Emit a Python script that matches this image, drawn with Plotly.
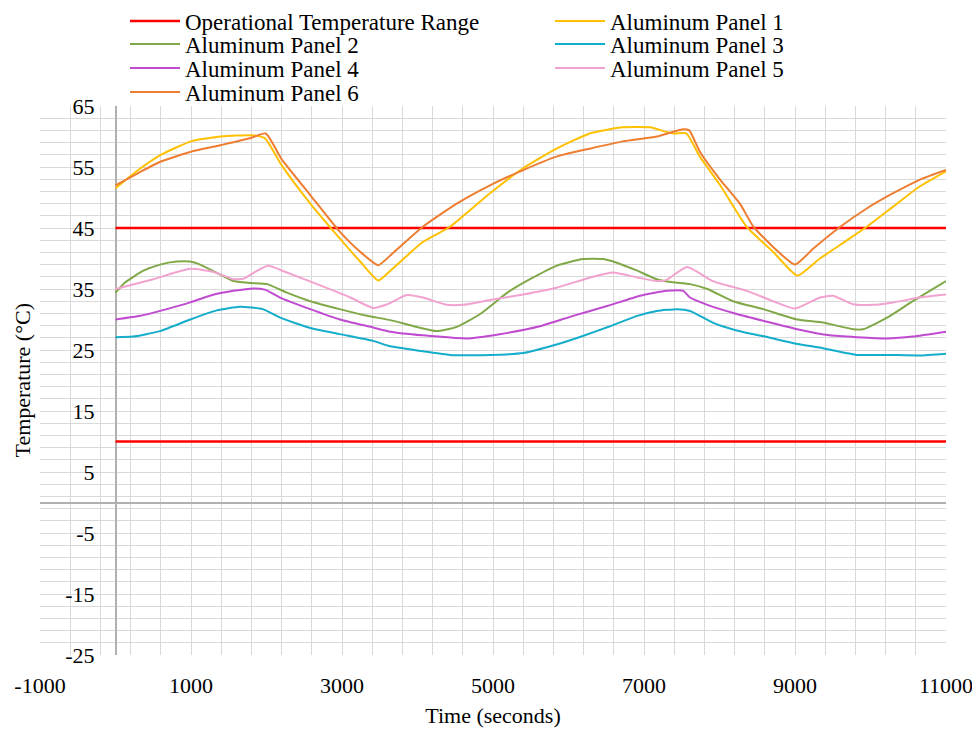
import plotly.graph_objects as go

# ---- data ----
RANGE_LOW = 10
RANGE_HIGH = 45
RANGE_T = [0, 11000]

p1_t = [0, 300, 600, 1000, 1400, 1800, 1980, 2200, 2580, 2970, 3240, 3480, 3640, 4070, 4430,
        4960, 5400, 5840, 6280, 6720, 7080, 7380, 7560, 7740, 8010, 8360, 8710, 9030, 9330,
        9690, 9950, 10300, 10650, 11000]
p1_v = [51.5, 54.5, 57.0, 59.2, 60.0, 60.2, 59.7, 55.3, 49.0, 43.3, 39.5, 36.4, 38.0, 42.7, 45.2,
        50.7, 54.8, 58.0, 60.5, 61.5, 61.5, 60.5, 60.5, 56.7, 52.0, 45.2, 41.1, 37.2, 40.0,
        43.0, 45.2, 48.5, 51.8, 54.3]

p2_t = [0, 130, 370, 590, 810, 990, 1120, 1380, 1560, 1780, 2010, 2270, 2580, 2970, 3330, 3640,
        3950, 4250, 4520, 4830, 5190, 5490, 5840, 6190, 6460, 6640, 6910, 7170, 7380, 7610, 7840,
        8180, 8580, 9030, 9370, 9770, 9900, 10220, 10560, 11000]
p2_v = [34.4, 36.1, 38.0, 39.0, 39.5, 39.5, 39.0, 37.4, 36.3, 36.0, 35.8, 34.4, 33.0, 31.7, 30.6, 29.9,
        28.9, 28.1, 28.8, 30.9, 34.4, 36.6, 38.8, 39.9, 39.9, 39.3, 38.0, 36.6, 36.1, 35.8, 35.0,
        33.0, 31.7, 30.0, 29.5, 28.4, 28.4, 30.3, 33.0, 36.3]

p3_t = [0, 230, 590, 990, 1340, 1650, 1950, 2180, 2580, 2970, 3410, 3640, 4070, 4430, 4960, 5400,
        5840, 6190, 6550, 6910, 7170, 7440, 7610, 7910, 8230, 8670, 9030, 9370, 9820, 10220,
        10650, 11000]
p3_v = [27.1, 27.2, 28.1, 30.0, 31.5, 32.1, 31.7, 30.3, 28.6, 27.6, 26.5, 25.6, 24.8, 24.2, 24.2, 24.5,
        25.9, 27.3, 28.9, 30.6, 31.4, 31.7, 31.4, 29.5, 28.2, 27.0, 26.0, 25.3, 24.2, 24.2,
        24.1, 24.4]

p4_t = [0, 330, 680, 990, 1250, 1560, 1830, 1980, 2180, 2580, 2970, 3410, 3640, 4070, 4650, 5090,
        5620, 6060, 6510, 6950, 7300, 7520, 7610, 7840, 8230, 8670, 9030, 9460, 9820, 10220,
        10560, 11000]
p4_v = [30.0, 30.6, 31.7, 32.8, 33.9, 34.7, 35.1, 34.9, 33.6, 31.7, 30.0, 28.7, 28.0, 27.4, 26.9, 27.6,
        28.9, 30.6, 32.2, 33.9, 34.7, 34.7, 33.6, 32.4, 30.9, 29.5, 28.4, 27.4, 27.1, 26.9,
        27.2, 28.0]

p5_t = [0, 500, 990, 1300, 1560, 1700, 1850, 2020, 2270, 2670, 3110, 3410, 3600, 3860, 4070, 4390,
        4600, 4960, 5400, 5840, 6290, 6590, 6910, 7170, 7300, 7570, 7910, 8360, 8710, 9000, 9330,
        9500, 9770, 10030, 10300, 10650, 11000]
p5_v = [35.0, 36.6, 38.3, 37.8, 36.6, 36.7, 37.8, 38.8, 37.7, 35.8, 33.6, 31.9, 32.5, 34.0, 33.6, 32.4,
        32.4, 33.2, 34.1, 35.2, 36.9, 37.7, 36.9, 36.3, 36.5, 38.6, 36.3, 34.7, 33.0, 31.8, 33.6,
        33.9, 32.5, 32.4, 32.8, 33.6, 34.1]

p6_t = [0, 300, 600, 1000, 1400, 1780, 1990, 2200, 2580, 2970, 3240, 3480, 3640, 4070, 4520, 4960,
        5400, 5840, 6280, 6720, 7170, 7520, 7600, 7740, 8010, 8270, 8450, 8710, 9000, 9240, 9600,
        9950, 10300, 10650, 11000]
p6_v = [52.0, 54.0, 55.9, 57.5, 58.6, 59.7, 60.5, 56.3, 50.4, 44.4, 41.1, 38.9, 40.5, 45.2, 49.0, 52.0,
        54.5, 56.7, 58.0, 59.2, 60.0, 61.2, 61.0, 57.5, 52.9, 49.0, 45.2, 41.9, 39.0, 41.6, 45.2,
        48.2, 50.7, 52.9, 54.5]

X_TICKS = [-1000, 1000, 3000, 5000, 7000, 9000, 11000]
Y_TICKS = [-25, -15, -5, 5, 15, 25, 35, 45, 55, 65]

FONT = "Liberation Serif, Times New Roman, serif"

panels = [
    ("Aluminum Panel 1", p1_t, p1_v, "#FFC000"),
    ("Aluminum Panel 2", p2_t, p2_v, "#80A848"),
    ("Aluminum Panel 3", p3_t, p3_v, "#14ADCB"),
    ("Aluminum Panel 4", p4_t, p4_v, "#C04AD0"),
    ("Aluminum Panel 5", p5_t, p5_v, "#F2A2CE"),
    ("Aluminum Panel 6", p6_t, p6_v, "#ED7D31"),
]

fig = go.Figure()

# operational range: two red horizontal lines, one legend entry
fig.add_trace(go.Scatter(
    x=[RANGE_T[0], RANGE_T[1], None, RANGE_T[0], RANGE_T[1]],
    y=[RANGE_HIGH, RANGE_HIGH, None, RANGE_LOW, RANGE_LOW],
    mode="lines", line=dict(color="#FF0000", width=2.5),
    name="Operational Temperature Range", legend="legend",
))

for i, (name, t, v, color) in enumerate(panels):
    fig.add_trace(go.Scatter(
        x=t, y=v, mode="lines", name=name, legend=f"legend{i + 2}",
        line=dict(color=color, width=2, shape="spline", smoothing=0.5),
    ))

# page body has an 8px margin, so work in figure pixels = screen pixels - 8
OFF = 8
W, H = 972, 732
plot_l, plot_w = 40 - OFF, 906
plot_top, plot_h = 106 - OFF, 549

# one small legend per entry: two columns, rows packed like the original
row_px = [22, 45, 69, 93]
col_px = [125, 550]
legends = {}
for i in range(7):
    key = "legend" if i == 0 else f"legend{i + 1}"
    legends[key] = dict(
        x=(col_px[i % 2] - OFF - plot_l) / plot_w, xanchor="left",
        y=1 + (plot_top - (row_px[i // 2] - OFF - 1)) / plot_h, yanchor="middle",
        font=dict(family=FONT, size=23, color="#000000"),
        itemwidth=50, bgcolor="rgba(0,0,0,0)",
    )

grid = "#D9D9D9"
fig.update_layout(
    width=W, height=H,
    margin=dict(l=plot_l, r=W - plot_l - plot_w, t=plot_top, b=H - plot_top - plot_h,
                autoexpand=False),
    paper_bgcolor="white", plot_bgcolor="white",
    font=dict(family=FONT, size=22, color="#000000"),
    showlegend=True,
    **legends,
    xaxis=dict(
        range=[-1000, 11000], tickmode="array", tickvals=X_TICKS,
        ticktext=[str(v) for v in X_TICKS], ticklabeloverflow="allow",
        showgrid=True, gridcolor=grid, gridwidth=1,
        minor=dict(tick0=-1000, dtick=400, showgrid=True, gridcolor=grid, gridwidth=1),
        zeroline=True, zerolinecolor="#B0B0B0", zerolinewidth=1.5,
        showline=False, ticks="", ticklabelstandoff=15,
        tickfont=dict(family=FONT, size=22, color="#000000"),
        title=dict(text="Time (seconds)", standoff=10,
                   font=dict(family=FONT, size=22, color="#000000")),
    ),
    yaxis=dict(
        range=[-25, 65], tickmode="array", tickvals=Y_TICKS,
        ticktext=[str(v) for v in Y_TICKS],
        anchor="free", position=(115.5 - OFF - plot_l) / plot_w,
        showgrid=True, gridcolor=grid, gridwidth=1,
        minor=dict(tick0=-25, dtick=2, showgrid=True, gridcolor=grid, gridwidth=1),
        zeroline=True, zerolinecolor="#B0B0B0", zerolinewidth=1.5,
        showline=False, ticks="", ticklabelstandoff=21,
        tickfont=dict(family=FONT, size=22, color="#000000"),
    ),
    annotations=[dict(
        text="Temperature (°C)", textangle=-90, showarrow=False,
        xref="paper", yref="paper", x=(22 - OFF - plot_l) / plot_w, y=0.5,
        xanchor="center", yanchor="middle",
        font=dict(family=FONT, size=22, color="#000000"),
    )],
)

fig.write_html("out.html")
